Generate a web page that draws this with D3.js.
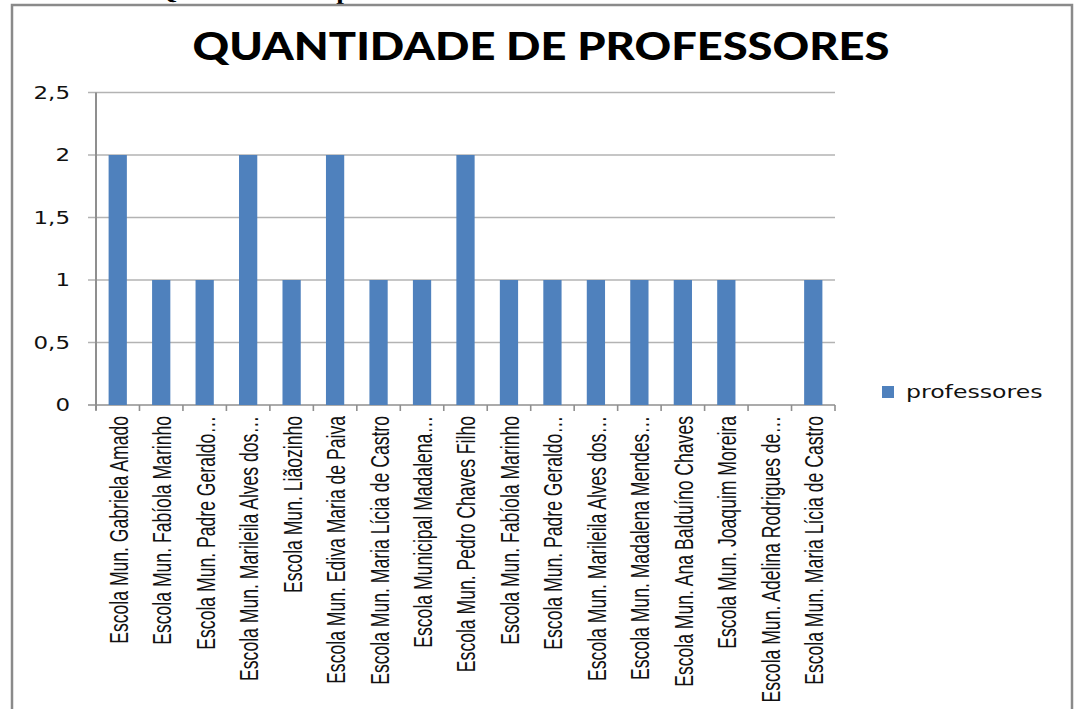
<!doctype html>
<html lang="pt">

<head>
    <meta charset="UTF-8">
    <title>Quantidade de professores</title>
    <script src="https://d3js.org/d3.v7.min.js"></script>
    <style>
        body {
            margin: 0;
            background: white;
        }

        svg {
            display: block;
        }
    </style>
</head>

<body>
    <svg id="chart" width="1079" height="709"></svg>

    <script>
        // data
        const escolas = [
            'Escola Mun. Gabriela Amado',
            'Escola Mun. Fabíola Marinho',
            'Escola Mun. Padre Geraldo…',
            'Escola Mun. Marileila Alves dos…',
            'Escola Mun. Liãozinho',
            'Escola Mun. Ediva Maria de Paiva',
            'Escola Mun. Maria Lícia de Castro',
            'Escola Municipal Madalena…',
            'Escola Mun. Pedro Chaves Filho',
            'Escola Mun. Fabíola Marinho',
            'Escola Mun. Padre Geraldo…',
            'Escola Mun. Marileila Alves dos…',
            'Escola Mun. Madalena Mendes…',
            'Escola Mun. Ana Balduíno Chaves',
            'Escola  Mun. Joaquim Moreira',
            'Escola Mun. Adelina Rodrigues de…',
            'Escola Mun. Maria Lícia de Castro'
        ];
        const professores = [2, 1, 1, 2, 1, 2, 1, 1, 2, 1, 1, 1, 1, 1, 1, 0, 1];
        const yTicks = [0, 0.5, 1, 1.5, 2, 2.5];
        const serieNome = 'professores';

        const svg = d3.select('#chart');
        const stretch = 1.35; // the source picture is widened horizontally
        const fmt = (v) => String(v).replace('.', ',');

        // caption above the frame, almost cut off
        svg.append('text')
            .attr('x', 18)
            .attr('y', -1)
            .attr('textLength', 450)
            .attr('lengthAdjust', 'spacingAndGlyphs')
            .style('font-family', 'Liberation Serif')
            .style('font-weight', 'bold')
            .style('font-size', '20px')
            .text('Gráfico 1 – Quantidade de professores');

        // frame
        svg.append('rect')
            .attr('x', 12)
            .attr('y', 5)
            .attr('width', 1060)
            .attr('height', 720)
            .attr('fill', 'white')
            .attr('stroke', '#8a8a8a')
            .attr('stroke-width', 2.5);

        // title
        svg.append('text')
            .attr('x', 541)
            .attr('y', 60)
            .attr('text-anchor', 'middle')
            .attr('textLength', 697)
            .attr('lengthAdjust', 'spacingAndGlyphs')
            .style('font-family', 'Lato')
            .style('font-weight', '900')
            .style('font-size', '38px')
            .text('QUANTIDADE DE PROFESSORES');

        const plotLeft = 96, plotRight = 835, plotTop = 92.5, plotBottom = 405;

        const x = d3.scaleBand()
            .domain(d3.range(escolas.length))
            .range([plotLeft, plotRight])
            .paddingInner(0.58)
            .paddingOuter(0.29);

        const y = d3.scaleLinear()
            .domain([0, 2.5])
            .range([plotBottom, plotTop]);

        // gridlines + y ticks
        svg.append('g')
            .selectAll('line')
            .data(yTicks)
            .join('line')
            .attr('x1', plotLeft - 8)
            .attr('x2', plotRight)
            .attr('y1', (d) => y(d))
            .attr('y2', (d) => y(d))
            .attr('stroke', (d) => d === 0 ? '#8f8f8f' : '#b3b3b3')
            .attr('stroke-width', 1.6);

        svg.append('g')
            .selectAll('text')
            .data(yTicks)
            .join('text')
            .attr('transform', (d) => `translate(70, ${y(d)}) scale(${stretch}, 1)`)
            .attr('dy', '0.36em')
            .attr('text-anchor', 'end')
            .style('font-family', 'DejaVu Sans')
            .style('font-size', '17px')
            .attr('fill', '#111')
            .text(fmt);

        // bars
        svg.append('g')
            .selectAll('rect')
            .data(professores)
            .join('rect')
            .attr('x', (d, i) => x(i))
            .attr('y', (d) => y(d))
            .attr('width', x.bandwidth())
            .attr('height', (d) => y(0) - y(d))
            .attr('fill', '#4f81bd');

        // y axis line
        svg.append('line')
            .attr('x1', plotLeft)
            .attr('x2', plotLeft)
            .attr('y1', plotTop)
            .attr('y2', plotBottom + 5)
            .attr('stroke', '#8f8f8f')
            .attr('stroke-width', 2);

        // category tick marks on the boundaries
        const step = x.step();
        svg.append('g')
            .selectAll('line')
            .data(d3.range(escolas.length + 1))
            .join('line')
            .attr('x1', (i) => plotLeft + i * step)
            .attr('x2', (i) => plotLeft + i * step)
            .attr('y1', plotBottom)
            .attr('y2', plotBottom + 6)
            .attr('stroke', '#8f8f8f')
            .attr('stroke-width', 1.6);

        // rotated category labels
        svg.append('g')
            .selectAll('text')
            .data(escolas)
            .join('text')
            .attr('transform', (d, i) =>
                `translate(${x(i) + x.bandwidth() / 2 + 1}, 416) scale(1.45, 1) rotate(-90)`)
            .attr('dy', '0.35em')
            .attr('text-anchor', 'end')
            .style('font-family', 'Liberation Sans')
            .style('font-size', '17.6px')
            .attr('fill', '#111')
            .text((d) => d);

        // legend
        const legend = svg.append('g');
        legend.append('rect')
            .attr('x', 882)
            .attr('y', 386)
            .attr('width', 12)
            .attr('height', 12)
            .attr('fill', '#4f81bd');
        legend.append('text')
            .attr('transform', `translate(906, 398) scale(${stretch}, 1)`)
            .style('font-family', 'DejaVu Sans')
            .style('font-size', '17.5px')
            .attr('fill', '#111')
            .text(serieNome);
    </script>
</body>

</html>
